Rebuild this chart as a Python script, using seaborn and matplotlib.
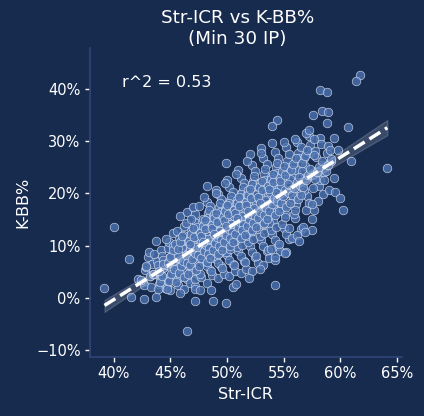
import matplotlib
matplotlib.use('Agg')
import matplotlib.pyplot as plt
import numpy as np
import pandas as pd
import seaborn as sns
from matplotlib.ticker import PercentFormatter

# Str-ICR (%) and K-BB% (%) for pitchers, one line per 1% column
core_x = [
    42.6, 42.8, 43.0, 43.2, 43.4, 42.7, 43.1, 43.3, 42.9, 43.5,
    43.6, 43.8, 44.0, 44.2, 44.4, 43.7, 43.9, 44.1, 44.3, 44.5, 43.6, 44.0, 44.2, 44.4,
    44.6, 44.8, 45.0, 45.2, 45.4, 44.7, 44.9, 45.1, 45.3, 45.5, 44.6, 44.9, 45.0, 45.2, 45.4, 44.8, 45.1, 45.3,
    45.6, 45.8, 46.0, 46.2, 46.4, 45.7, 45.9, 46.1, 46.3, 46.5, 45.6, 45.8, 46.0, 46.2, 46.4, 45.7, 45.9, 46.1, 46.3, 46.5, 46.0, 46.2,
    46.6, 46.8, 47.0, 47.2, 47.4, 46.7, 46.9, 47.1, 47.3, 47.5, 46.6, 46.8, 47.0, 47.2, 47.4, 46.7, 46.9, 47.1, 47.3, 47.5, 46.6, 46.8, 47.0, 47.2, 47.4, 47.1,
    47.6, 47.8, 48.0, 48.2, 48.4, 47.7, 47.9, 48.1, 48.3, 48.5, 47.6, 47.8, 48.0, 48.2, 48.4, 47.7, 47.9, 48.1, 48.3, 48.5, 47.6, 47.8, 48.0, 48.2, 48.4, 47.7, 47.9, 48.1, 48.3, 48.5,
    48.6, 48.8, 49.0, 49.2, 49.4, 48.7, 48.9, 49.1, 49.3, 49.5, 48.6, 48.8, 49.0, 49.2, 49.4, 48.7, 48.9, 49.1, 49.3, 49.5, 48.6, 48.8, 49.0, 49.2, 49.4, 48.7, 48.9, 49.1, 49.3, 49.5, 49.0, 49.2,
    49.6, 49.8, 50.0, 50.2, 50.4, 49.7, 49.9, 50.1, 50.3, 50.5, 49.6, 49.8, 50.0, 50.2, 50.4, 49.7, 49.9, 50.1, 50.3, 50.5, 49.6, 49.8, 50.0, 50.2, 50.4, 49.7, 49.9, 50.1, 50.3, 50.5, 49.8, 50.0, 50.2, 50.4,
    50.6, 50.8, 51.0, 51.2, 51.4, 50.7, 50.9, 51.1, 51.3, 51.5, 50.6, 50.8, 51.0, 51.2, 51.4, 50.7, 50.9, 51.1, 51.3, 51.5, 50.6, 50.8, 51.0, 51.2, 51.4, 50.7, 50.9, 51.1, 51.3, 51.5, 50.8, 51.0, 51.2, 51.4,
    51.6, 51.8, 52.0, 52.2, 52.4, 51.7, 51.9, 52.1, 52.3, 52.5, 51.6, 51.8, 52.0, 52.2, 52.4, 51.7, 51.9, 52.1, 52.3, 52.5, 51.6, 51.8, 52.0, 52.2, 52.4, 51.7, 51.9, 52.1, 52.3, 52.5, 51.8, 52.0, 52.2, 52.4,
    52.6, 52.8, 53.0, 53.2, 53.4, 52.7, 52.9, 53.1, 53.3, 53.5, 52.6, 52.8, 53.0, 53.2, 53.4, 52.7, 52.9, 53.1, 53.3, 53.5, 52.6, 52.8, 53.0, 53.2, 53.4, 52.7, 52.9, 53.1, 53.3, 53.5, 53.0, 53.2,
    53.6, 53.8, 54.0, 54.2, 54.4, 53.7, 53.9, 54.1, 54.3, 54.5, 53.6, 53.8, 54.0, 54.2, 54.4, 53.7, 53.9, 54.1, 54.3, 54.5, 53.6, 53.8, 54.0, 54.2, 54.4, 53.7, 53.9, 54.1, 54.3, 54.5,
    54.6, 54.8, 55.0, 55.2, 55.4, 54.7, 54.9, 55.1, 55.3, 55.5, 54.6, 54.8, 55.0, 55.2, 55.4, 54.7, 54.9, 55.1, 55.3, 55.5, 54.6, 54.8, 55.0, 55.2, 55.4, 55.1,
    55.6, 55.8, 56.0, 56.2, 56.4, 55.7, 55.9, 56.1, 56.3, 56.5, 55.6, 55.8, 56.0, 56.2, 56.4, 55.7, 55.9, 56.1, 56.3, 56.5, 56.0, 56.2,
    56.6, 56.8, 57.0, 57.2, 57.4, 56.7, 56.9, 57.1, 57.3, 57.5, 56.6, 56.8, 57.0, 57.2, 57.4, 56.9,
    57.6, 57.8, 58.0, 58.2, 58.4, 57.7, 57.9, 58.1, 58.3, 58.5, 57.8, 58.2,
    58.6, 58.8, 59.0, 59.2, 59.4, 58.9,
]
core_y = [
    3.1, 5.3, 7.9, 4.2, 6.5, 2.4, 8.8, 2.0, 5.9, 4.6,
    4.5, 7.1, 2.6, 9.2, 5.7, 10.8, 6.2, 3.8, 8.0, 1.9, 8.4, 5.0, 4.1, 7.3,
    6.2, 9.5, 4.1, 12.4, 7.8, 2.2, 10.6, 5.7, 8.6, 3.5, 11.3, 7.0, 1.4, 9.9, 5.0, 3.2, 8.0, 6.5,
    7.6, 11.3, 4.5, 13.8, 8.9, 2.4, 15.7, 6.4, 10.2, 3.6, 12.7, 5.8, 9.5, 1.7, 14.4, 8.2, 4.0, 12.0, 7.1, 16.4, 10.9, 5.3,
    8.5, 12.7, 5.4, 16.1, 9.8, 2.9, 11.3, 7.6, 14.4, 4.2, 10.9, 6.8, 17.3, 2.2, 13.5, 9.2, 4.8, 12.3, 8.1, 17.6, 6.2, 15.1, 10.2, 3.5, 11.8, 7.1,
    10.1, 14.7, 6.8, 18.4, 11.9, 3.9, 13.2, 8.6, 16.3, 5.4, 12.4, 9.3, 19.3, 2.9, 15.5, 10.8, 7.1, 14.0, 9.8, 17.6, 4.6, 12.9, 11.2, 6.0, 16.9, 8.1, 15.0, 13.7, 7.6, 10.5,
    11.0, 15.6, 7.4, 19.8, 12.8, 4.3, 14.1, 9.5, 17.4, 6.0, 13.3, 10.2, 20.7, 3.7, 16.5, 11.7, 8.0, 15.0, 10.7, 18.9, 5.2, 13.8, 12.1, 6.7, 18.1, 9.0, 16.1, 14.6, 8.5, 11.4, 20.1, 12.5,
    12.0, 16.8, 8.1, 21.3, 13.9, 4.6, 15.2, 10.4, 18.7, 6.5, 14.4, 11.1, 22.6, 4.1, 17.8, 12.7, 8.8, 16.1, 11.6, 20.3, 5.7, 14.9, 13.1, 7.3, 19.5, 9.8, 17.3, 15.7, 9.3, 12.3, 22.0, 10.8, 18.2, 14.1,
    13.2, 18.0, 9.0, 23.0, 15.1, 5.1, 16.5, 11.4, 20.2, 7.1, 15.6, 12.2, 24.5, 4.7, 19.3, 13.9, 9.7, 17.5, 12.8, 22.0, 6.3, 16.2, 14.4, 8.0, 21.2, 10.8, 18.8, 17.0, 10.2, 13.5, 23.8, 11.9, 19.8, 15.4,
    14.5, 19.6, 9.9, 25.4, 16.6, 5.6, 18.1, 12.5, 22.3, 7.8, 17.1, 13.4, 27.6, 5.2, 21.2, 15.3, 10.7, 19.1, 14.0, 24.3, 6.9, 17.8, 15.8, 8.8, 23.3, 11.9, 20.6, 18.6, 11.2, 14.8, 26.2, 13.0, 21.8, 16.9,
    15.8, 21.0, 11.0, 26.8, 18.0, 6.6, 19.5, 13.7, 23.8, 8.9, 18.5, 14.6, 28.7, 6.2, 22.6, 16.6, 11.8, 20.4, 15.2, 25.6, 8.0, 19.0, 17.2, 9.9, 24.7, 13.1, 22.0, 20.0, 12.4, 16.2, 27.7, 14.1,
    17.0, 22.3, 12.2, 27.9, 19.2, 7.7, 20.8, 14.9, 25.0, 10.0, 19.8, 15.9, 29.7, 7.3, 23.9, 17.9, 13.0, 21.6, 16.4, 26.7, 9.1, 20.3, 18.5, 11.1, 25.9, 14.3, 23.2, 21.1, 13.6, 17.5,
    18.3, 23.6, 13.4, 28.8, 20.4, 9.0, 22.0, 16.1, 26.2, 11.2, 21.0, 17.2, 29.9, 8.7, 25.1, 19.1, 14.2, 22.8, 17.7, 27.6, 10.3, 21.5, 19.7, 12.3, 24.3, 15.5,
    20.1, 25.3, 15.2, 29.9, 22.2, 11.4, 23.7, 17.9, 27.8, 13.1, 22.7, 19.0, 30.5, 12.0, 26.7, 20.8, 16.1, 24.5, 19.5, 28.9, 16.9, 21.5,
    21.7, 26.7, 16.9, 31.0, 23.8, 13.5, 25.3, 19.5, 29.2, 15.1, 24.3, 20.6, 31.6, 18.2, 27.7, 22.9,
    23.6, 28.2, 18.5, 30.6, 25.4, 16.8, 27.0, 21.4, 29.4, 19.8, 24.2, 22.6,
    24.0, 27.8, 20.6, 26.2, 23.0, 29.0,
]

# the thickest part of the cloud, close to the fit line
dense_x = [
    43.7, 43.9, 44.1, 44.3, 44.0, 44.4,
    44.7, 44.9, 45.1, 45.3, 44.8, 45.0, 45.2, 45.4,
    45.55, 45.75, 45.95, 46.15, 46.35, 45.65, 45.85, 46.05, 46.25, 46.45,
    46.55, 46.75, 46.95, 47.15, 47.35, 46.65, 46.85, 47.05, 47.25, 47.45, 46.7, 47.1,
    47.55, 47.75, 47.95, 48.15, 48.35, 47.65, 47.85, 48.05, 48.25, 48.45, 47.7, 48.1, 48.3, 47.9,
    48.55, 48.75, 48.95, 49.15, 49.35, 48.65, 48.85, 49.05, 49.25, 49.45, 48.7, 49.1, 49.3, 48.9,
    49.55, 49.75, 49.95, 50.15, 50.35, 49.65, 49.85, 50.05, 50.25, 50.45, 49.7, 50.1, 50.3, 49.9,
    50.55, 50.75, 50.95, 51.15, 51.35, 50.65, 50.85, 51.05, 51.25, 51.45, 50.7, 51.1, 51.3, 50.9,
    51.55, 51.75, 51.95, 52.15, 52.35, 51.65, 51.85, 52.05, 52.25, 52.45, 51.7, 52.1, 52.3, 51.9,
    52.55, 52.75, 52.95, 53.15, 53.35, 52.65, 52.85, 53.05, 53.25, 53.45, 52.7, 53.1, 53.3, 52.9,
    53.55, 53.75, 53.95, 54.15, 54.35, 53.65, 53.85, 54.05, 54.25, 54.45, 53.7, 54.1,
    54.55, 54.75, 54.95, 55.15, 55.35, 54.65, 54.85, 55.05, 55.25, 55.45, 54.7, 55.1,
    55.55, 55.75, 55.95, 56.15, 56.35, 55.65, 55.85, 56.05, 56.25, 56.45,
    56.55, 56.75, 56.95, 57.15, 57.35, 56.65, 56.85, 57.05,
    57.55, 57.75, 57.95, 58.15, 58.35, 57.65,
    58.55, 58.75, 58.95, 59.15,
]
dense_y = [
    0.1, 1.7, 3.0, 4.1, 5.2, 6.4,
    1.6, 3.2, 4.5, 5.6, 6.7, 7.9, 9.2, 10.3,
    3.1, 4.7, 6.0, 7.1, 8.2, 9.4, 10.7, 11.8, 3.9, 6.6,
    4.6, 6.2, 7.5, 8.6, 9.7, 10.9, 12.2, 13.3, 5.4, 8.1, 10.3, 11.6,
    6.1, 7.7, 9.0, 10.1, 11.2, 12.4, 13.7, 14.8, 6.9, 9.6, 11.8, 13.1, 8.4, 10.7,
    7.6, 9.2, 10.5, 11.6, 12.7, 13.9, 15.2, 16.3, 8.4, 11.1, 13.3, 14.6, 9.9, 12.2,
    9.1, 10.7, 12.0, 13.1, 14.2, 15.4, 16.7, 17.8, 9.9, 12.6, 14.8, 16.1, 11.4, 13.7,
    10.6, 12.2, 13.5, 14.6, 15.7, 16.9, 18.2, 19.3, 11.4, 14.1, 16.3, 17.6, 12.9, 15.2,
    12.1, 13.7, 15.0, 16.1, 17.2, 18.4, 19.7, 20.8, 12.9, 15.6, 17.8, 19.1, 14.4, 16.7,
    13.6, 15.2, 16.5, 17.6, 18.7, 19.9, 21.2, 22.3, 14.4, 17.1, 19.3, 20.6, 15.9, 18.2,
    15.1, 16.7, 18.0, 19.1, 20.2, 21.4, 22.7, 23.8, 15.9, 18.6, 20.8, 22.1,
    16.6, 18.2, 19.5, 20.6, 21.7, 22.9, 24.2, 25.3, 17.4, 20.1, 22.3, 23.6,
    18.1, 19.7, 21.0, 22.1, 23.2, 24.4, 25.7, 26.8, 18.9, 21.6,
    19.6, 21.2, 22.5, 23.6, 24.7, 25.9, 27.2, 28.3,
    21.1, 22.7, 24.0, 25.1, 26.2, 27.4,
    22.6, 24.2, 25.5, 26.6,
]

# scattered points outside the main cloud
tail_x = [61.7, 61.4, 58.2, 58.85, 57.55, 58.4, 58.9, 58.85, 54.4, 54.0, 60.7, 64.15,
          59.4, 60.9, 59.5, 60.0, 60.2, 40.0, 39.2, 41.4, 41.5, 42.7, 42.2, 42.4,
          46.5, 47.2, 48.8, 49.9, 47.2, 47.6, 48.6, 45.9, 50.5, 50.8, 51.95, 54.25,
          49.9, 48.2, 56.4, 57.5, 55.1, 52.9, 54.25, 42.9, 59.8, 59.1, 57.2, 57.7,
          56.9, 55.5, 53.9, 57.5]
tail_y = [42.7, 41.6, 39.8, 39.4, 35.0, 35.8, 35.5, 33.4, 34.1, 32.9, 32.7, 24.8,
          30.7, 26.2, 20.3, 19.05, 16.8, 13.6, 1.8, 7.4, 0.1, -0.2, 3.6, 3.4,
          -6.4, -0.55, -0.6, -1.05, 1.7, 1.5, 1.5, 0.85, 2.1, 2.7, 3.7, 2.4,
          25.8, 21.4, 10.9, 13.0, 8.5, 5.6, 7.75, 6.0, 28.4, 28.4, 32.1, 30.5,
          12.5, 13.4, 9.35, 18.0]

df = pd.DataFrame({'Str-ICR': core_x + dense_x + tail_x,
                   'K-BB%': core_y + dense_y + tail_y})

bg = '#172b4f'
sns.set_theme(style='ticks', rc={
    'figure.facecolor': bg, 'axes.facecolor': bg, 'savefig.facecolor': bg,
    'axes.edgecolor': '#2e4476', 'axes.labelcolor': 'white',
    'xtick.color': 'white', 'ytick.color': 'white', 'text.color': 'white',
})

fig, ax = plt.subplots(figsize=(4.24, 4.16), dpi=100)
fig.subplots_adjust(left=0.213, right=0.947, bottom=0.1425, top=0.884)

sns.scatterplot(data=df, x='Str-ICR', y='K-BB%', color='#4c72b0', edgecolor='#dde6f5',
                s=38, alpha=0.8, linewidth=0.5, ax=ax)
sns.regplot(data=df, x='Str-ICR', y='K-BB%', scatter=False, color='white', seed=0,
            line_kws={'ls': '--', 'lw': 2.5}, ax=ax)

ax.text(0.102, 0.8875, 'r^2 = 0.53', transform=ax.transAxes, ha='left', va='center',
        fontsize=11.5, color='white')

ax.set_xlim(37.95, 65.4)
ax.set_ylim(-11.3, 47.8)
ax.set_xticks([40, 45, 50, 55, 60, 65])
ax.set_yticks([-10, 0, 10, 20, 30, 40])
ax.xaxis.set_major_formatter(PercentFormatter(decimals=0))
ax.yaxis.set_major_formatter(PercentFormatter(decimals=0))
ax.tick_params(labelsize=10.5, length=3.5, width=1)
ax.set_xlabel('Str-ICR', fontsize=11.5)
ax.set_ylabel('K-BB%', fontsize=11.5)
ax.set_title('Str-ICR vs K-BB%\n(Min 30 IP)', fontsize=13.2, color='white', x=0.472, pad=1)
sns.despine(ax=ax)

fig.savefig('out.png', dpi=100)
